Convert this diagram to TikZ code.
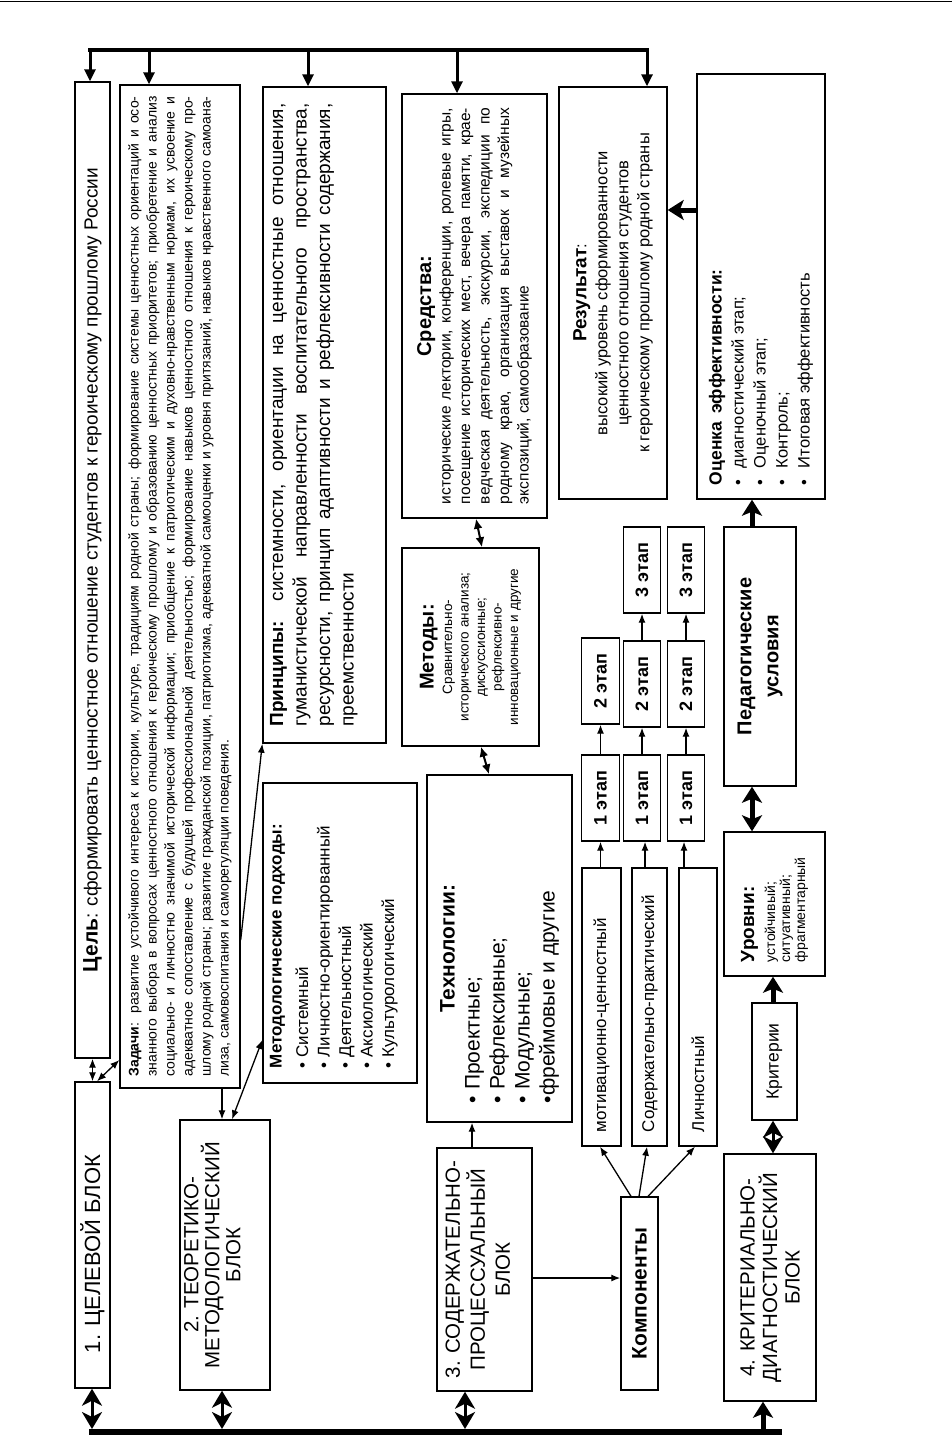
\documentclass[tikz,border=0pt]{standalone}
\usepackage{fontspec}
\setmainfont{Liberation Sans}
\usetikzlibrary{arrows.meta}
\newcommand{\myfs}[2]{\fontsize{#1}{#2}\selectfont}
\newcommand{\nohy}{\hyphenpenalty=10000\exhyphenpenalty=10000\tolerance=10000\emergencystretch=20pt}
\tikzset{
  box/.style={draw, line width=1.4pt, rotate=90, inner sep=0pt},
  arr/.style={line width=1.3pt, -{Latex[length=9pt,width=7pt]}},
  darr/.style={line width=1.3pt, {Latex[length=9pt,width=7pt]}-{Latex[length=9pt,width=7pt]}},
  mdarr/.style={line width=2pt, {Latex[length=10pt,width=9pt]}-{Latex[length=10pt,width=9pt]}},
  busarr/.style={line width=3pt, -{Triangle[length=12pt,width=11pt]}},
  fatarr/.style={line width=5pt, -{Stealth[length=16pt,width=20pt,inset=4pt]}},
  fatdarr/.style={line width=5pt, {Stealth[length=16pt,width=20pt,inset=4pt]}-{Stealth[length=16pt,width=20pt,inset=4pt]}},
  diam/.style={line width=3pt, {Stealth[length=17pt,width=20pt,inset=5pt]}-{Stealth[length=17pt,width=20pt,inset=5pt]}},
}
\begin{document}
\begin{tikzpicture}[x=1pt,y=-1pt]
\fill[white] (0,0) rectangle (952,1450);
\useasboundingbox (0,0) rectangle (952,1450);
\draw[line width=1.5pt] (0,1.5) -- (952,1.5);

% ---------- row 1 ----------
\node[box, minimum width=976pt, minimum height=35pt, font=\myfs{19}{22}] (tsel) at (92.5,570)
  {{\bfseries\myfs{21}{22}Цель}: сформировать ценностное отношение студентов к героическому прошлому России};
\node[box, minimum width=306pt, minimum height=35pt, font=\myfs{22}{24}] (blk1) at (92.5,1235)
  {1. ЦЕЛЕВОЙ БЛОК\hspace*{38pt}};

\node[box, minimum width=1003pt, minimum height=120pt, font=\myfs{14}{18}] (zad) at (180,586.5)
 {\parbox{980pt}{\nohy
 \textbf{Задачи}: развитие устойчивого интереса к истории, культуре, традициям родной страны; формирование системы ценностных ориентаций и осо-\linebreak
 знанного выбора в вопросах ценностного отношения к героическому прошлому и образованию ценностных приоритетов; приобретение и анализ\linebreak
 социально- и личностно значимой исторической информации; приобщение к патриотическим и духовно-нравственным нормам, их усвоение и\linebreak
 адекватное сопоставление с будущей профессиональной деятельностью; формирование навыков ценностного отношения к героическому про-\linebreak
 шлому родной страны; развитие гражданской позиции, патриотизма, адекватной самооценки и уровня притязаний, навыков нравственного самоана-\linebreak
 лиза, самовоспитания и саморегуляции поведения.}};

\node[box, minimum width=270pt, minimum height=90pt, font=\myfs{20.5}{21}] (blk2) at (225,1255)
  {\parbox[c][82pt][t]{260pt}{\centering 2. ТЕОРЕТИКО-\\МЕТОДОЛОГИЧЕСКИЙ\\БЛОК}};

% ---------- row 2 ----------
\node[box, minimum width=300pt, minimum height=154pt, font=\myfs{17}{21.5}] (metod) at (340,933)
 {\parbox[c][140pt][t]{270pt}{\raggedright{\bfseries Методологические подходы:}\\[5pt]
 • Системный\\• Личностно-ориентированный\\• Деятельностный\\• Аксиологический\\• Культурологический}};

\node[box, minimum width=656pt, minimum height=123pt, font=\myfs{19}{23.5}] (princ) at (324.5,415)
 {\parbox[c][109pt][t]{623pt}{\nohy
 \textbf{Принципы:} системности, ориентации на ценностные отношения,\linebreak
 гуманистической направленности воспитательного пространства,\linebreak
 ресурсности, принцип адаптивности и рефлексивности содержания,\linebreak
 преемственности}};

% ---------- row 3 ----------
\node[box, minimum width=424pt, minimum height=145pt, font=\myfs{15.5}{19.5}] (sred) at (474.5,306)
 {\parbox{396pt}{\nohy
 {\centering\bfseries\myfs{20}{24}Средства:\par}
 исторические лектории, конференции, ролевые игры,\linebreak
 посещение исторических мест, вечера памяти, крае-\linebreak
 ведческая деятельность, экскурсии, экспедиции по\linebreak
 родному краю, организация выставок и музейных\linebreak
 экспозиций, самообразование}};

\node[box, align=center, minimum width=198pt, minimum height=137pt, font=\myfs{13.5}{16.5}] (metody) at (470.5,647)
 {{\bfseries\myfs{20}{22}Методы:}\\[2pt]Сравнительно-\\исторического анализа;\\дискуссионные;\\рефлексивно-\\инновационные и другие};

\node[box, minimum width=347pt, minimum height=145pt, font=\myfs{21}{25}] (tech) at (499.5,948.5)
 {\parbox{309pt}{\raggedright\makebox[309pt]{\bfseries Технологии:}\\
 • Проектные;\\• Рефлексивные;\\• Модульные;\\•фреймовые и другие}};

\node[box, minimum width=243pt, minimum height=95pt, font=\myfs{20.5}{25}] (blk3) at (484.5,1269.5)
  {\parbox[c][78pt][t]{235pt}{\centering 3. СОДЕРЖАТЕЛЬНО-\\ПРОЦЕССУАЛЬНЫЙ\\БЛОК}};

% ---------- row 4 ----------
\node[box, minimum width=412pt, minimum height=108pt, align=center, font=\myfs{16.5}{21}] (rez) at (613,293)
 {{\bfseries\myfs{19}{22}Результат}:\\высокий уровень сформированности\\ценностного отношения студентов\\к героическому прошлому родной страны};

\foreach \nm/\cx/\cy/\lab in {s11/600.5/798/1, s12/600.5/681/2,
   s21/642/798/1, s22/642/684/2, s23/642/570/3,
   s31/686/798/1, s32/686/684/2, s33/686/570/3}
  \node[box, minimum width=86pt, minimum height=37.5pt, font=\bfseries\myfs{18}{20}] (\nm) at (\cx,\cy) {\lab\ этап};

\node[box, align=left, text width=250pt, minimum width=278pt, minimum height=39pt, font=\myfs{17}{20}] (c1) at (601.5,1007) {мотивационно-ценностный};
\node[box, align=left, text width=250pt, minimum width=278pt, minimum height=35pt, font=\myfs{17}{20}] (c2) at (649.5,1007) {Содержательно-практический};
\node[box, align=left, text width=250pt, minimum width=278pt, minimum height=38pt, font=\myfs{17}{20}] (c3) at (698,1007) {Личностный};

\node[box, minimum width=193pt, minimum height=37pt, font=\bfseries\myfs{21}{24}] (komp) at (639.5,1293.5) {Компоненты};

% ---------- row 5 ----------
\node[box, minimum width=425pt, minimum height=128pt, font=\myfs{16.5}{22}] (ocen) at (761,286.5)
 {\parbox{397pt}{\raggedright{\bfseries\myfs{17.5}{22}Оценка\hspace{8pt}эффективности:}\\
 •\hspace{11pt}диагностический этап;\\•\hspace{11pt}Оценочный этап;\\•\hspace{11pt}Контроль;\\•\hspace{11pt}Итоговая эффективность}};

\node[box, align=center, minimum width=259pt, minimum height=72pt, font=\bfseries\myfs{20}{27}] (ped) at (760,656.5)
  {Педагогические\\условия};

\node[box, minimum width=144pt, minimum height=101pt, font=\myfs{14}{15}] (urov) at (774.5,904)
 {\parbox{116pt}{\raggedright{\bfseries\myfs{19}{22}Уровни:}\\[6pt]устойчивый;\\ситуативный;\\фрагментарный}};

\node[box, minimum width=117pt, minimum height=45pt, font=\myfs{17.5}{20}] (krit) at (774.5,1061.5) {Критерии};

\node[box, align=center, minimum width=247pt, minimum height=92pt, font=\myfs{20.5}{22.5}] (blk4) at (770,1277.5)
  {4. КРИТЕРИАЛЬНО-\\ДИАГНОСТИЧЕСКИЙ\\БЛОК};

% ---------- top bus ----------
\coordinate (t1) at (90,50); \coordinate (t2) at (149,50); \coordinate (t3) at (308,50);
\coordinate (t4) at (457,50); \coordinate (t5) at (647,50);
\draw[line width=4pt, line cap=rect] (t1) -- (t5);
\draw[busarr] (t1) -- (t1 |- tsel.east);
\draw[busarr] (t2) -- (t2 |- zad.east);
\draw[busarr] (t3) -- (t3 |- princ.east);
\draw[busarr] (t4) -- (t4 |- sred.east);
\draw[busarr] (t5) -- (t5 |- rez.east);

% ---------- bottom bus ----------
\coordinate (uL) at (89,1432); \coordinate (uR) at (782,1432);
\coordinate (u1) at (92,1429); \coordinate (u2) at (222,1429); \coordinate (u3) at (465,1429); \coordinate (u4) at (763,1429);
\draw[line width=6pt] (uL) -- (uR);
\draw[diam] (u1) -- (u1 |- blk1.west);
\draw[diam] (u2) -- (u2 |- blk2.west);
\draw[diam] (u3) -- (u3 |- blk3.west);
\draw[fatarr] (u4) -- (u4 |- blk4.west);

% ---------- other connectors ----------
\draw[darr] (tsel.west) -- (blk1.east);
\draw[darr] (97,0 |- blk1.east) -- (zad.north |- 0,1060);
\draw[arr] (222,0 |- zad.west) -- (222,0 |- blk2.east);
\draw[darr] (232,0 |- blk2.east) -- (metod.north |- 0,1040);
\draw[arr] (zad.south |- 0,940) -- (princ.north west);
\draw[mdarr] (476,0 |- sred.west) -- (482,0 |- metody.east);
\draw[mdarr] (481,0 |- metody.west) -- (489,0 |- tech.east);
\draw[arr] (472,0 |- blk3.east) -- (472,0 |- tech.west);
\draw[arr] (blk3.south |- 0,1278) -- (komp.north |- 0,1278);
\draw[arr] (631,0 |- komp.east) -- (600,0 |- c1.west);
\draw[arr] (639,0 |- komp.east) -- (647,0 |- c2.west);
\draw[arr] (648,0 |- komp.east) -- (695,0 |- c3.west);
\draw[arr] (600.5,0 |- c1.east) -- (s11.west);
\draw[arr] (s11.east) -- (s12.west);
\draw[arr] (645,0 |- c2.east) -- (645,0 |- s21.west);
\draw[arr] (s21.east) -- (s22.west);
\draw[arr] (s22.east) -- (s23.west);
\draw[arr] (684,0 |- c3.east) -- (684,0 |- s31.west);
\draw[arr] (s31.east) -- (s32.west);
\draw[arr] (s32.east) -- (s33.west);
\draw[fatdarr] (752,0 |- ped.west) -- (752,0 |- urov.east);
\draw[fatarr] (773,0 |- krit.east) -- (773,0 |- urov.west);
\draw[diam] (773,0 |- blk4.east) -- (773,0 |- krit.west);
\draw[fatarr] (752,0 |- ped.east) -- (752,0 |- ocen.west);
\draw[fatarr] (ocen.north |- 0,210) -- (rez.south |- 0,210);
\end{tikzpicture}
\end{document}
